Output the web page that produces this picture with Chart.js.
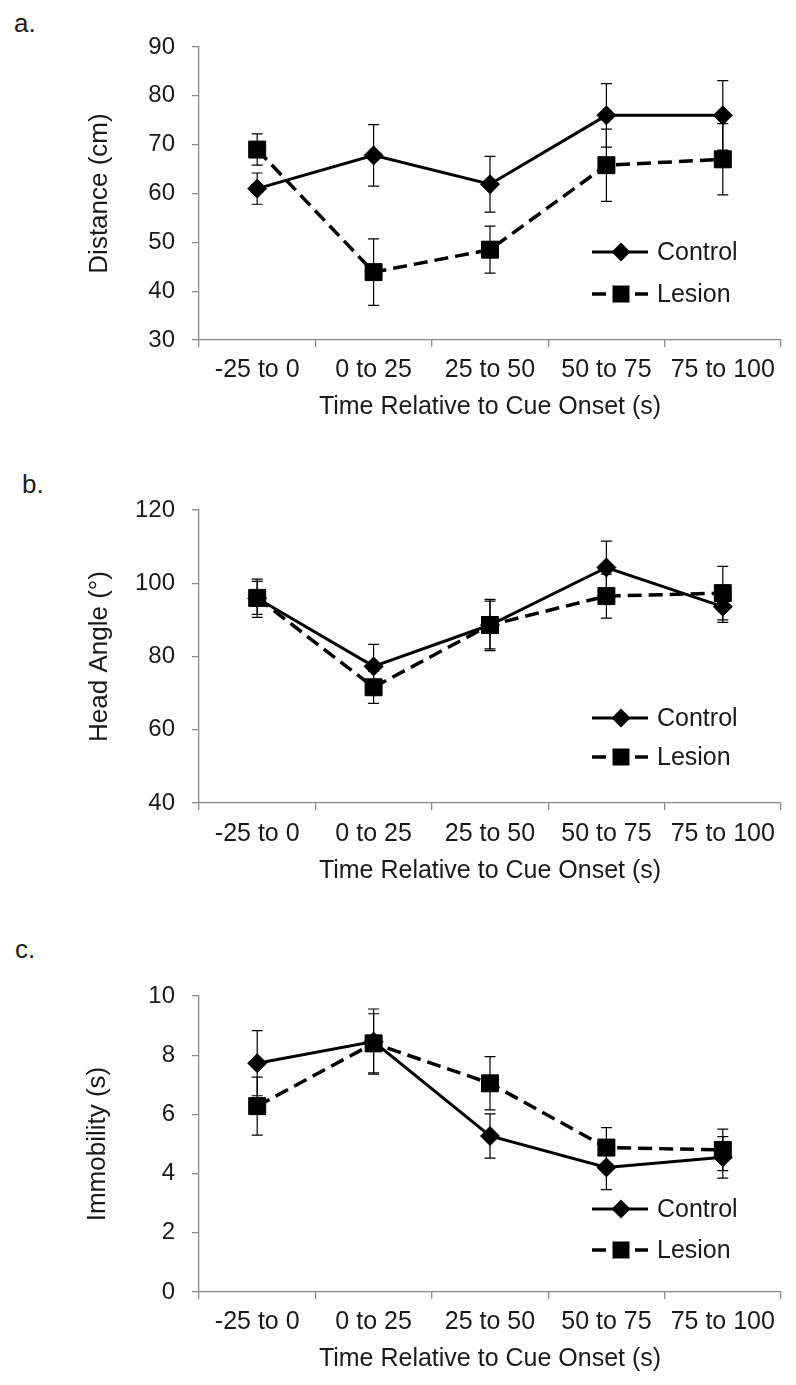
<!DOCTYPE html>
<html>
<head>
<meta charset="utf-8">
<title>Distance, head angle and immobility</title>
<script src="https://cdn.jsdelivr.net/npm/chart.js"></script>
<style>
    body { margin: 0; background: #fff; width: 796px; height: 1385px; position: relative; overflow: hidden; font-family: "Liberation Sans", Arial, sans-serif; }
    .panel { position: absolute; left: 0; width: 796px; }
    .tag { position: absolute; font-size: 26px; line-height: 1; color: #1a1a1a; }
</style>
</head>
<body>

<div class="tag" style="left:14px; top:10px;">a.</div>
<div class="tag" style="left:22px; top:471px;">b.</div>
<div class="tag" style="left:15px; top:936px;">c.</div>

<div class="panel" style="top:0px;"><canvas id="graficaA" width="796" height="440"></canvas></div>
<div class="panel" style="top:440px;"><canvas id="graficaB" width="796" height="460"></canvas></div>
<div class="panel" style="top:900px;"><canvas id="graficaC" width="796" height="485"></canvas></div>

<script>
// categorias del eje x
const timeBins = ['-25 to 0', '0 to 25', '25 to 50', '50 to 75', '75 to 100'];

// a. Distance (cm)
const distControl = [61.0, 67.8, 61.9, 76.0, 76.0];
const distControlErr = [3.2, 6.3, 5.7, 6.5, 7.1];
const distLesion = [69.0, 43.9, 48.5, 65.8, 67.0];
const distLesionErr = [3.2, 6.8, 4.8, 7.4, 7.3];

// b. Head Angle
const angleControl = [95.9, 77.3, 88.6, 104.3, 93.6];
const angleControlErr = [5.2, 6.0, 6.5, 7.2, 4.3];
const angleLesion = [96.0, 71.6, 88.6, 96.5, 97.3];
const angleLesionErr = [4.5, 4.4, 7.0, 6.0, 7.3];

// c. Immobility (s)
const immControl = [7.73, 8.46, 5.27, 4.21, 4.55];
const immControlErr = [1.1, 1.1, 0.75, 0.75, 0.7];
const immLesion = [6.28, 8.4, 7.05, 4.88, 4.8];
const immLesionErr = [0.98, 1.0, 0.9, 0.67, 0.7];

const FAMILY = '"Liberation Sans", Arial, sans-serif';
const INK = '#1a1a1a';
const AXIS = '#8a8a8a';

// barras de error detras de los marcadores
const errorBars = {
    id: 'errorBars',
    beforeDatasetsDraw(chart) {
        const ctx = chart.ctx;
        const y = chart.scales.y;
        ctx.save();
        ctx.strokeStyle = '#000';
        ctx.lineWidth = 1.2;
        chart.data.datasets.forEach((ds, i) => {
            chart.getDatasetMeta(i).data.forEach((pt, j) => {
                const top = y.getPixelForValue(ds.data[j] + ds.errors[j]);
                const bot = y.getPixelForValue(ds.data[j] - ds.errors[j]);
                ctx.beginPath();
                ctx.moveTo(pt.x, top); ctx.lineTo(pt.x, bot);
                ctx.moveTo(pt.x - 5.5, top); ctx.lineTo(pt.x + 5.5, top);
                ctx.moveTo(pt.x - 5.5, bot); ctx.lineTo(pt.x + 5.5, bot);
                ctx.stroke();
            });
        });
        ctx.restore();
    }
};

// leyenda estilo Excel: linea + marcador + texto
const panelLegend = {
    id: 'panelLegend',
    afterDraw(chart, args, opts) {
        const ctx = chart.ctx;
        const area = chart.chartArea;
        const x0 = area.left + opts.x;
        ctx.save();
        chart.data.datasets.forEach((ds, i) => {
            const y = area.top + opts.rows[i];
            const mid = x0 + 29;
            ctx.strokeStyle = '#000';
            ctx.fillStyle = '#000';
            ctx.lineWidth = ds.borderWidth;
            ctx.beginPath();
            if (ds.borderDash) {
                ctx.moveTo(x0, y); ctx.lineTo(x0 + 14, y);
                ctx.moveTo(x0 + 43, y); ctx.lineTo(x0 + 56, y);
            } else {
                ctx.moveTo(x0, y); ctx.lineTo(x0 + 56, y);
            }
            ctx.stroke();
            ctx.beginPath();
            if (ds.pointStyle === 'rectRot') {
                const r = ds.pointRadius;
                ctx.moveTo(mid - r, y); ctx.lineTo(mid, y - r);
                ctx.lineTo(mid + r, y); ctx.lineTo(mid, y + r);
                ctx.closePath();
            } else {
                const s = ds.pointRadius * Math.SQRT1_2;
                ctx.rect(mid - s, y - s, 2 * s, 2 * s);
            }
            ctx.fill();
            ctx.fillStyle = INK;
            ctx.font = `25px ${FAMILY}`;
            ctx.textBaseline = 'middle';
            ctx.fillText(ds.label, x0 + 65, y + 1);
        });
        ctx.restore();
    }
};

function crearPanel(id, cfg) {
    return new Chart(document.getElementById(id), {
        type: 'line',
        data: {
            labels: timeBins,
            datasets: [
                {
                    label: 'Control', data: cfg.control, errors: cfg.controlErr,
                    borderColor: '#000', backgroundColor: '#000', borderWidth: 3,
                    pointStyle: 'rectRot', pointRadius: 9.5, pointHoverRadius: 9.5,
                    pointBorderWidth: 1, tension: 0
                },
                {
                    label: 'Lesion', data: cfg.lesion, errors: cfg.lesionErr,
                    borderColor: '#000', backgroundColor: '#000', borderWidth: 3.5,
                    borderDash: [14, 7], pointStyle: 'rect', pointRadius: 12,
                    pointHoverRadius: 12, pointBorderWidth: 1, tension: 0
                }
            ]
        },
        options: {
            responsive: false,
            animation: false,
            events: [],
            layout: { padding: { top: cfg.padTop, right: 15, left: 0, bottom: 0 } },
            plugins: {
                legend: { display: false },
                tooltip: { enabled: false },
                panelLegend: { x: 393, rows: cfg.legendRows }
            },
            scales: {
                x: {
                    offset: true,
                    grid: { offset: true, drawOnChartArea: false, color: AXIS, tickLength: 7, lineWidth: 1.3 },
                    border: { color: AXIS, width: 1.3 },
                    ticks: { color: INK, font: { size: 25, family: FAMILY }, padding: cfg.xTickPad, maxRotation: 0, autoSkip: false },
                    title: { display: true, text: 'Time Relative to Cue Onset (s)', color: INK, font: { size: 25, family: FAMILY }, padding: { top: 0, bottom: cfg.xTitlePad } },
                    afterFit: s => { s.height = cfg.xAxisH; }
                },
                y: {
                    min: cfg.min, max: cfg.max,
                    grid: { drawOnChartArea: false, color: AXIS, tickLength: 7, lineWidth: 1.3 },
                    border: { color: AXIS, width: 1.3 },
                    ticks: { stepSize: cfg.step, color: INK, font: { size: 24, family: FAMILY }, padding: 17 },
                    title: { display: true, text: cfg.yTitle, color: INK, font: { size: 26, family: FAMILY }, padding: { top: cfg.yTitlePad, bottom: 0 } },
                    afterFit: s => { s.width = 199; }
                }
            }
        },
        plugins: [errorBars, panelLegend]
    });
}

crearPanel('graficaA', {
    control: distControl, controlErr: distControlErr,
    lesion: distLesion, lesionErr: distLesionErr,
    min: 30, max: 90, step: 10, yTitle: 'Distance (cm)',
    padTop: 47, xAxisH: 100, xTickPad: 8, xTitlePad: 18, yTitlePad: 84,
    legendRows: [205, 247]
});

crearPanel('graficaB', {
    control: angleControl, controlErr: angleControlErr,
    lesion: angleLesion, lesionErr: angleLesionErr,
    min: 40, max: 120, step: 20, yTitle: 'Head Angle (°)',
    padTop: 70, xAxisH: 97, xTickPad: 9, xTitlePad: 14, yTitlePad: 84,
    legendRows: [208, 247]
});

crearPanel('graficaC', {
    control: immControl, controlErr: immControlErr,
    lesion: immLesion, lesionErr: immLesionErr,
    min: 0, max: 10, step: 2, yTitle: 'Immobility (s)',
    padTop: 96, xAxisH: 93, xTickPad: 8, xTitlePad: 11, yTitlePad: 82,
    legendRows: [213, 254]
});
</script>
</body>
</html>
